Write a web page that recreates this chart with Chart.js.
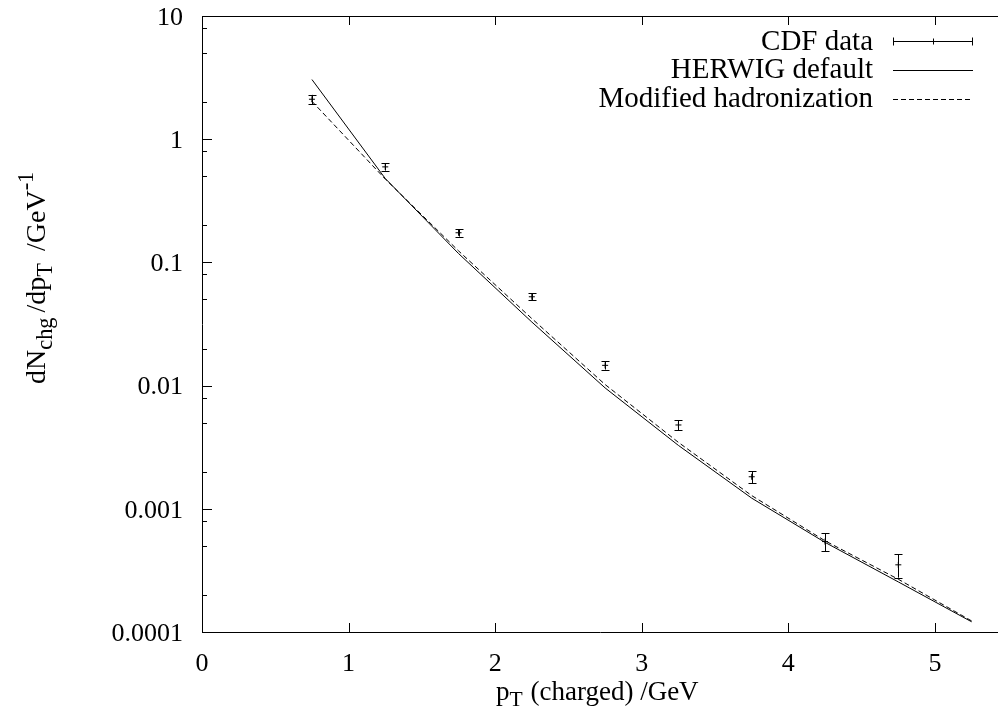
<!DOCTYPE html>
<html><head><meta charset="utf-8">
<script src="https://cdn.jsdelivr.net/npm/chart.js@4/dist/chart.umd.min.js"></script>
<style>html,body{margin:0;padding:0;background:#fff}#wrap{width:998px;height:721px;position:relative}</style>
</head><body><div id="wrap"><canvas id="c" width="998" height="721"></canvas></div>
<script>
// ---- data ----
const ptBins = [0.75, 1.25, 1.75, 2.25, 2.75, 3.25, 3.75, 4.25, 4.75];
const cdfValues = [2.11, 0.596, 0.174, 0.0526, 0.0146, 0.00479, 0.00182, 0.000542, 0.000351];
const cdfErrors = [0.18, 0.04, 0.012, 0.0035, 0.0011, 0.00045, 0.0002, 0.00009, 0.000075];
const modelPt = [0.75, 1.25, 1.75, 2.25, 2.75, 3.25, 3.75, 4.25, 4.75, 5.25];
const herwigDefault = [3.05, 0.48, 0.118, 0.0328, 0.00957, 0.00327, 0.00122, 0.000534, 0.000255, 0.000121];
const modifiedHadronization = [2.03, 0.475, 0.124, 0.0350, 0.0102, 0.00346, 0.00128, 0.000550, 0.000268, 0.000123];
const xTicks = [0, 1, 2, 3, 4, 5];
const yTicks = [0.0001, 0.001, 0.01, 0.1, 1, 10];
const yTickLabels = ['0.0001', '0.001', '0.01', '0.1', '1', '10'];
const seriesNames = ['CDF data', 'HERWIG default', 'Modified hadronization'];
const xTitle = [['p', 0, 1], ['T', 6, 0.8], [' (charged) /GeV', 0, 1]];
const yTitle = [['dN', 0, 1], ['chg', 7, 0.8], ['/dp', 0, 1], ['T', 7, 0.8], [' /GeV', 0, 1], ['-1', -12, 0.8]];

const FONT = '"Liberation Serif", "DejaVu Serif", serif';
const FS = 26;

function drawRich(ctx, segs, x, y, size, gap) {
  let cx = x;
  for (const [t, dy, sc] of segs) {
    ctx.font = (size * sc) + 'px ' + FONT;
    ctx.fillText(t, cx, y + dy);
    cx += ctx.measureText(t).width + (sc < 1 ? gap : 0);
  }
}

const gnuplotLook = {
  id: 'gnuplotLook',
  afterLayout(chart) {
    // plot frame runs to the right edge of the picture, as in the reference
    const xs = chart.scales.x, a = chart.chartArea;
    xs.right = chart.width;
    xs.width = xs.right - xs.left;
    xs.configure();
    a.right = chart.width;
    a.width = a.right - a.left;
  },
  afterDatasetsDraw(chart) {
    const ctx = chart.ctx, xs = chart.scales.x, ys = chart.scales.y;
    ctx.save();
    ctx.strokeStyle = '#000'; ctx.lineWidth = 1;
    ptBins.forEach((p, i) => {
      const px = Math.round(xs.getPixelForValue(p)) + 0.5;
      const y1 = ys.getPixelForValue(cdfValues[i] + cdfErrors[i]);
      const y2 = ys.getPixelForValue(cdfValues[i] - cdfErrors[i]);
      ctx.beginPath();
      ctx.moveTo(px, y1); ctx.lineTo(px, y2);
      ctx.moveTo(px - 4, Math.round(y1) + 0.5); ctx.lineTo(px + 4, Math.round(y1) + 0.5);
      ctx.moveTo(px - 4, Math.round(y2) + 0.5); ctx.lineTo(px + 4, Math.round(y2) + 0.5);
      ctx.stroke();
    });
    ctx.restore();
  },
  afterDraw(chart) {
    const ctx = chart.ctx, a = chart.chartArea, xs = chart.scales.x, ys = chart.scales.y;
    ctx.save();
    ctx.strokeStyle = '#000'; ctx.fillStyle = '#000'; ctx.lineWidth = 1;
    // top border
    ctx.beginPath();
    ctx.moveTo(a.left, Math.round(a.top) + 0.5); ctx.lineTo(a.right, Math.round(a.top) + 0.5);
    ctx.stroke();
    // inward x ticks (bottom & top)
    ctx.beginPath();
    xTicks.forEach(v => {
      const px = Math.round(xs.getPixelForValue(v)) + 0.5;
      ctx.moveTo(px, a.bottom); ctx.lineTo(px, a.bottom - 9);
      ctx.moveTo(px, a.top); ctx.lineTo(px, a.top + 9);
    });
    // inward y ticks, major + minor (2,5,8)
    yTicks.forEach((v, i) => {
      const py = Math.round(ys.getPixelForValue(v)) + 0.5;
      ctx.moveTo(a.left, py); ctx.lineTo(a.left + 10, py);
      if (i < yTicks.length - 1) {
        [2, 5, 8].forEach(m => {
          const my = Math.round(ys.getPixelForValue(v * m)) + 0.5;
          ctx.moveTo(a.left, my); ctx.lineTo(a.left + 5, my);
        });
      }
    });
    ctx.stroke();
    // legend
    const rows = [41, 69.5, 98.5];
    const tx = 873, s1 = 893, s2 = 973;
    ctx.font = '29px ' + FONT;
    ctx.textAlign = 'right'; ctx.textBaseline = 'middle';
    seriesNames.forEach((n, i) => ctx.fillText(n, tx, rows[i] + 1));
    ctx.beginPath();
    const r0 = Math.round(rows[0]) + 0.5;
    ctx.moveTo(s1, r0); ctx.lineTo(s2, r0);
    ctx.moveTo(s1 + 0.5, r0 - 4); ctx.lineTo(s1 + 0.5, r0 + 4);
    ctx.moveTo(s2 - 0.5, r0 - 4); ctx.lineTo(s2 - 0.5, r0 + 4);
    const mid = Math.round((s1 + s2) / 2) + 0.5;
    ctx.moveTo(mid, r0 - 3); ctx.lineTo(mid, r0 + 3);
    const r1 = Math.round(rows[1]) + 0.5;
    ctx.moveTo(s1, r1); ctx.lineTo(s2, r1);
    ctx.stroke();
    ctx.beginPath();
    ctx.setLineDash([5, 3]);
    const r2 = Math.round(rows[2]) + 0.5;
    ctx.moveTo(s1, r2); ctx.lineTo(s2, r2);
    ctx.stroke();
    ctx.setLineDash([]);
    // axis titles
    ctx.textAlign = 'left'; ctx.textBaseline = 'alphabetic';
    drawRich(ctx, xTitle, 496, 700, 27, 1);
    ctx.translate(45, 384);
    ctx.rotate(-Math.PI / 2);
    drawRich(ctx, yTitle, 0, 0, 28, 5);
    ctx.restore();
  }
};

new Chart(document.getElementById('c'), {
  type: 'line',
  data: {
    datasets: [
      {
        label: seriesNames[0],
        data: ptBins.map((p, i) => ({ x: p, y: cdfValues[i] })),
        showLine: false, pointStyle: 'cross', pointRadius: 3, pointBorderWidth: 1,
        borderColor: '#000', backgroundColor: '#000'
      },
      {
        label: seriesNames[1],
        data: modelPt.map((p, i) => ({ x: p, y: herwigDefault[i] })),
        borderColor: '#000', borderWidth: 1, pointRadius: 0, tension: 0, fill: false
      },
      {
        label: seriesNames[2],
        data: modelPt.map((p, i) => ({ x: p, y: modifiedHadronization[i] })),
        borderColor: '#000', borderWidth: 1, borderDash: [5, 3], pointRadius: 0, tension: 0, fill: false
      }
    ]
  },
  options: {
    responsive: false, animation: false, devicePixelRatio: 1,
    layout: { padding: { top: 16, right: 0, bottom: 0, left: 0 } },
    plugins: { legend: { display: false }, tooltip: { enabled: false }, title: { display: false } },
    scales: {
      x: {
        type: 'linear', min: 0, max: 5.43,
        afterBuildTicks: s => { s.ticks = xTicks.map(v => ({ value: v })); },
        afterFit: s => { s.height = 89; s.paddingLeft = 0; s.paddingRight = 0; },
        ticks: { font: { family: FONT, size: FS }, color: '#000', padding: 17, autoSkip: false, maxRotation: 0,
                 callback: v => String(v) },
        grid: { display: false, drawTicks: false },
        border: { display: true, color: '#000', width: 1 }
      },
      y: {
        type: 'logarithmic', min: 0.0001, max: 10,
        afterBuildTicks: s => { s.ticks = yTicks.map(v => ({ value: v })); },
        afterFit: s => { s.width = 202; s.paddingTop = 0; s.paddingBottom = 0; },
        ticks: { font: { family: FONT, size: FS }, color: '#000', padding: 19, labelOffset: 2, autoSkip: false,
                 callback: v => { const i = yTicks.findIndex(t => Math.abs(t - v) / t < 1e-6); return i >= 0 ? yTickLabels[i] : ''; } },
        grid: { display: false, drawTicks: false },
        border: { display: true, color: '#000', width: 1 }
      }
    }
  },
  plugins: [gnuplotLook]
});
</script>
</body></html>
